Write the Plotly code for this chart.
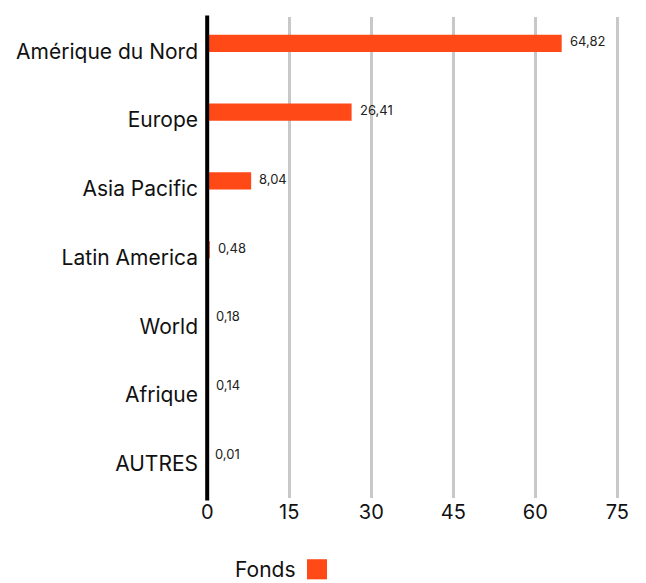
import plotly.graph_objects as go

categories = ["Amérique du Nord", "Europe", "Asia Pacific", "Latin America", "World", "Afrique", "AUTRES"]
values = [64.82, 26.41, 8.04, 0.48, 0.18, 0.14, 0.01]
x_ticks = [0, 15, 30, 45, 60, 75]
series_name = "Fonds"

labels = [f"{v:.2f}".replace(".", ",") for v in values]

FONT = "Inter"
BAR_COLOR = "#FF4A17"
TEXT_COLOR = "#111111"

fig = go.Figure()
fig.add_trace(go.Bar(
    y=categories,
    x=values,
    orientation="h",
    name=series_name,
    marker=dict(color=BAR_COLOR, line=dict(width=0)),
    width=0.25,
    offset=-0.24,
    showlegend=False,
    hoverinfo="x+y",
))

# value labels
for cat, val, lab in zip(categories, values, labels):
    fig.add_annotation(
        x=val, y=cat, xref="x", yref="y",
        text=lab, showarrow=False,
        xanchor="left", yanchor="middle",
        xshift=6, yshift=10,
        font=dict(family=FONT, size=13, color="#222222"),
    )

# black baseline at x=0, drawn above the bars
fig.add_shape(
    type="line", xref="x", yref="paper",
    x0=0, x1=0, y0=-0.005, y1=1.003,
    line=dict(color="black", width=4),
    layer="above",
)

# legend (text followed by a square swatch)
fig.add_annotation(
    x=0.2246, y=-0.148, xref="paper", yref="paper",
    text=series_name, showarrow=False,
    xanchor="right", yanchor="middle",
    font=dict(family=FONT, size=21, color=TEXT_COLOR),
)
fig.add_shape(
    type="rect", xref="paper", yref="paper",
    x0=0.2464, x1=0.2947, y0=-0.1273, y1=-0.1691,
    fillcolor=BAR_COLOR, line=dict(width=0),
)

fig.update_layout(
    width=646,
    height=583,
    margin=dict(l=205, r=27, t=17, b=85),
    paper_bgcolor="white",
    plot_bgcolor="white",
    font=dict(family=FONT, color=TEXT_COLOR),
    showlegend=False,
    xaxis=dict(
        range=[-0.4, 75.3],
        tickvals=x_ticks,
        ticktext=[str(t) for t in x_ticks],
        showgrid=True,
        gridcolor="#C8C8C8",
        gridwidth=2.5,
        zeroline=False,
        showline=False,
        ticks="",
        tickfont=dict(family=FONT, size=20, color=TEXT_COLOR),
    ),
    yaxis=dict(
        categoryorder="array",
        categoryarray=categories,
        autorange="reversed",
        showgrid=False,
        zeroline=False,
        showline=False,
        ticks="",
        ticklabelstandoff=6,
        tickfont=dict(family=FONT, size=21, color=TEXT_COLOR),
    ),
)

fig.write_html("out.html")
